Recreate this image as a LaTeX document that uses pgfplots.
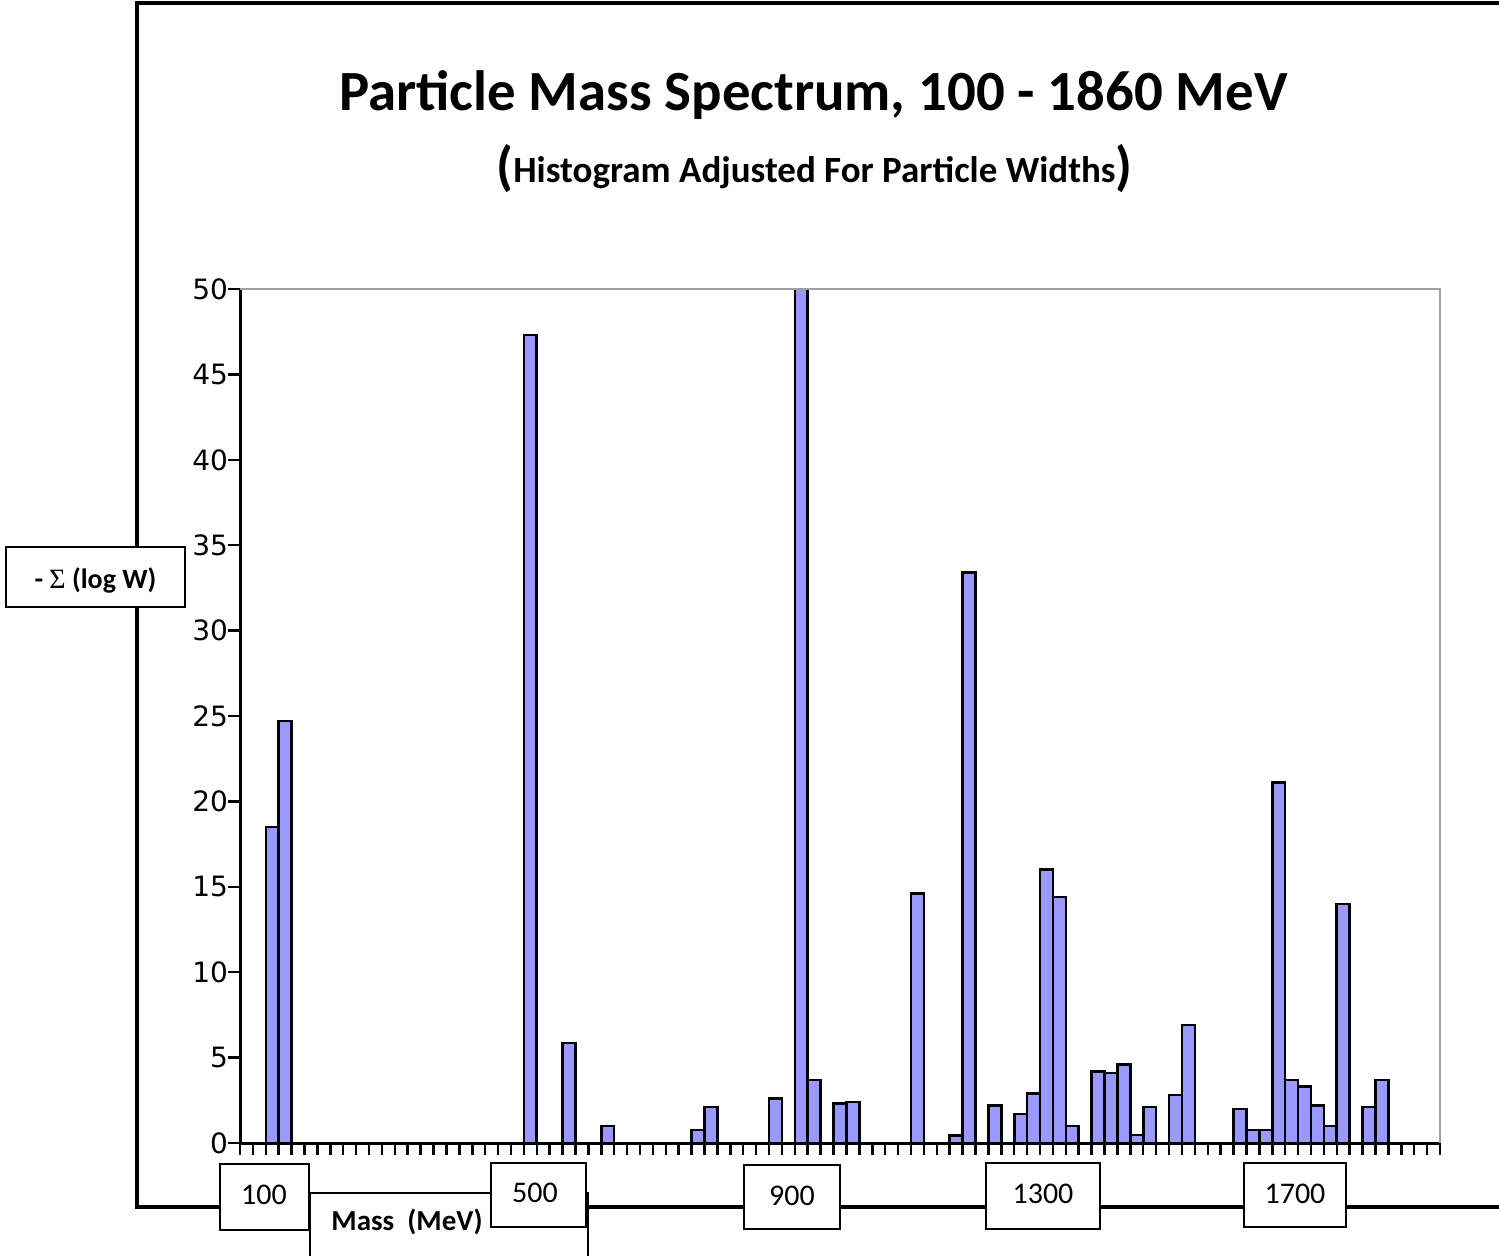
\documentclass[border=0pt]{standalone}
\usepackage{fontspec}
\setmainfont{Carlito}
\newfontfamily\dejavu{DejaVu Sans}
\newfontfamily\libserif{Liberation Serif}
\usepackage{pgfplots}
\pgfplotsset{compat=1.18}
\definecolor{barfill}{HTML}{9999FF}
\definecolor{framegray}{HTML}{A0A0A0}
\begin{document}
\begin{tikzpicture}[x=0.5pt,y=-0.5pt]
\path[use as bounding box] (0,0) rectangle (1499,1255);
\clip (0,0) rectangle (1499,1255);
\draw[line width=1.6pt] (137,3) rectangle (1530,1207);
\begin{axis}[
  at={(120pt,-571.5pt)}, anchor=south west,
  scale only axis, width=600pt, height=427pt,
  xmin=0, xmax=93, ymin=0, ymax=50,
  axis x line*=bottom, axis y line*=left,
  x axis line style={-}, y axis line style={-},
  axis line style={line width=1.5pt, black},
  xtick={0,...,93}, xticklabels={},
  ytick={0,5,...,50},
  tick align=outside, major tick length=6pt,
  tick style={line width=1.25pt, black},
  /pgf/number format/assume math mode=true,
  yticklabel style={font=\dejavu\fontsize{14}{16}\selectfont, xshift=3.5pt},
  clip=false,
]
\addplot[ybar, bar width=1, bar shift=0pt, fill=barfill, draw=black, line width=1.3pt] coordinates {
(2.5,18.5) (3.5,24.7) (22.5,47.3) (25.5,5.85) (28.5,1.0)
(35.5,0.77) (36.5,2.1) (41.5,2.6) (43.5,50) (44.5,3.7)
(46.5,2.3) (47.5,2.4) (52.5,14.6) (55.5,0.43) (56.5,33.4)
(58.5,2.2) (60.5,1.7) (61.5,2.9) (62.5,16.0) (63.5,14.4)
(64.5,1.0) (66.5,4.2) (67.5,4.1) (68.5,4.6) (69.5,0.47)
(70.5,2.1) (72.5,2.8) (73.5,6.9) (77.5,2.0) (78.5,0.76)
(79.5,0.76) (80.5,21.1) (81.5,3.7) (82.5,3.3) (83.5,2.2)
(84.5,1.0) (85.5,14.0) (87.5,2.1) (88.5,3.7)
};
\draw[framegray, line width=1pt] (rel axis cs:0,1) -- (rel axis cs:1,1) -- (rel axis cs:1,0);
\end{axis}
\node[anchor=base, font=\bfseries\fontsize{28.4}{34}\selectfont] at (813.5,110) {Particle Mass Spectrum, 100 - 1860 MeV};
\node[anchor=base, font=\bfseries] at (814.5,182) {\raisebox{-1pt}{\fontsize{27}{30}\selectfont(}\fontsize{18.5}{22}\selectfont Histogram Adjusted For Particle Widths\raisebox{-1pt}{\fontsize{27}{30}\selectfont)}};
% y label box
\draw[line width=1pt, fill=white] (6,547) rectangle (185,607);
\node[font=\bfseries\fontsize{14}{17}\selectfont] at (95.5,580) {- {\libserif\mdseries Σ} (log W)};
% x label boxes
\draw[line width=1pt, fill=white] (310,1193) rectangle (588,1270);
\node[font=\bfseries\fontsize{14.5}{17}\selectfont] at (407,1222) {Mass\ \ (MeV)};
\draw[line width=1pt, fill=white] (220,1164) rectangle (309,1230);
\node[font=\fontsize{15}{18}\selectfont] at (264,1195) {100};
\draw[line width=1pt, fill=white] (491,1163) rectangle (586,1227);
\node[font=\fontsize{15}{18}\selectfont] at (535,1193) {500};
\draw[line width=1pt, fill=white] (744,1165) rectangle (840,1229);
\node[font=\fontsize{15}{18}\selectfont] at (792,1196) {900};
\draw[line width=1pt, fill=white] (986,1163) rectangle (1100,1229);
\node[font=\fontsize{15}{18}\selectfont] at (1043,1194) {1300};
\draw[line width=1pt, fill=white] (1244,1163) rectangle (1346,1227);
\node[font=\fontsize{15}{18}\selectfont] at (1295,1194) {1700};
\end{tikzpicture}
\end{document}
